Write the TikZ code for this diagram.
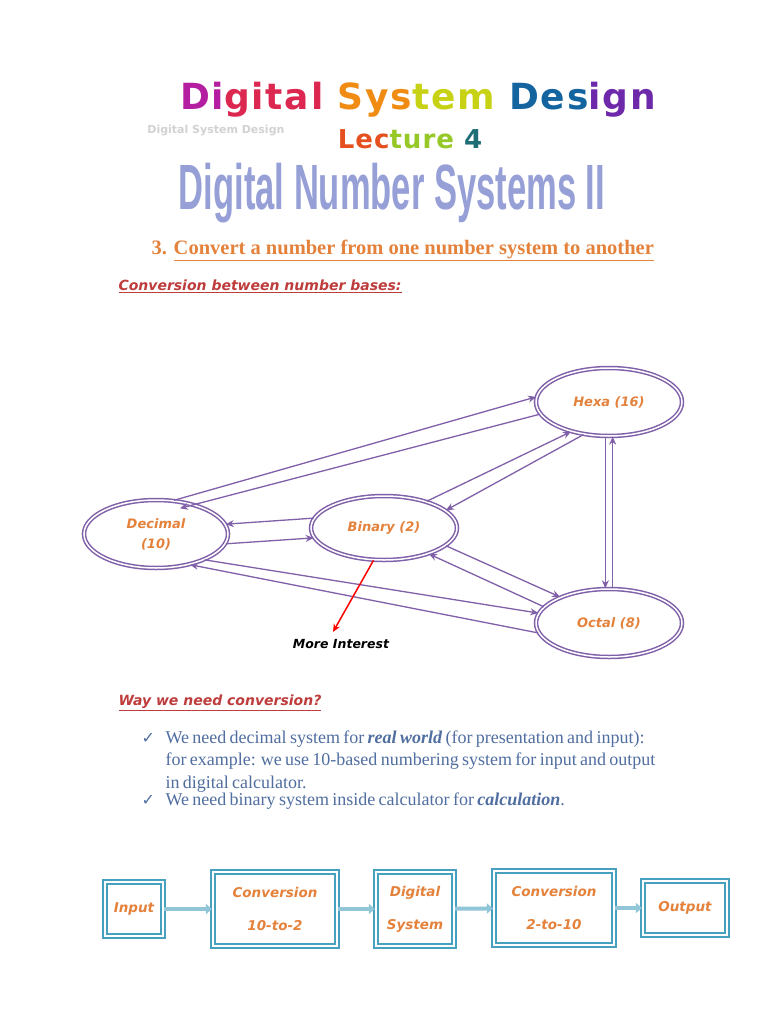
\documentclass[tikz,border=0pt]{standalone}
\usepackage{fontspec}
\setmainfont{Liberation Serif}
\newfontfamily\dsans{DejaVu Sans}
\newfontfamily\arialb{DejaVu Sans}
\newfontfamily\narrowb{Liberation Sans}
\usetikzlibrary{arrows.meta,shapes.geometric,calc}
\definecolor{pur}{RGB}{128,96,168}
\definecolor{org}{RGB}{228,130,60}
\definecolor{dred}{RGB}{190,60,60}
\definecolor{bodyc}{RGB}{80,110,160}
\definecolor{teal}{RGB}{70,160,190}
\tikzset{
 base/.style={ellipse,draw=pur,double=white,double distance=1.5pt,line width=1.5pt,minimum width=146pt,minimum height=68pt,inner sep=0pt,font=\dsans\itshape\bfseries\fontsize{13}{20}\selectfont,text=org,align=center},
 conv/.style={draw=pur,line width=1.3pt,-{Stealth[open,length=8pt,width=7pt]}},
 blk/.style={draw=teal,double=white,double distance=1.5pt,line width=2.2pt,inner sep=0pt,font=\dsans\itshape\bfseries\fontsize{13.5}{33}\selectfont,text=org,align=center},
 flow/.style={draw=teal!60,line width=4pt,-{Triangle[length=6pt,width=10pt]}}
}
\begin{document}
\begin{tikzpicture}[x=1pt,y=-1pt]
\useasboundingbox (0,0) rectangle (768,1024);
\fill[white] (0,0) rectangle (768,1024);
% titles
\node[anchor=east] (t2s) at (288,131) {\arialb\bfseries\fontsize{11}{11}\selectfont\color{gray!35}Digital System Design};
\node (t1) at (418,100) {\arialb\bfseries\fontsize{36}{36}\selectfont\addfontfeature{LetterSpace=5}
 \textcolor[RGB]{180,30,160}{Di}\textcolor[RGB]{220,40,80}{gital} \textcolor[RGB]{240,140,20}{Sys}\textcolor[RGB]{200,210,20}{tem} \textcolor[RGB]{20,100,160}{Des}\textcolor[RGB]{110,40,170}{ign}};
\node (t2) at (410,139) {\arialb\bfseries\fontsize{26}{26}\selectfont\addfontfeature{LetterSpace=4}
 \textcolor[RGB]{230,80,30}{Lec}\textcolor[RGB]{150,200,40}{ture} \textcolor[RGB]{30,110,120}{4}};
\node (t3) at (392,193) {\begingroup\narrowb\bfseries\fontsize{64}{64}\selectfont\color[RGB]{150,160,215}\addfontfeature{FakeStretch=0.54}Digital Number Systems II\endgroup};
\node[anchor=west,text=org] (h3) at (148,250) {\bfseries\fontsize{20.5}{22}\selectfont 3. \underline{Convert a number from one number system to another}};
\node[anchor=west,text=dred] (h4) at (115,286) {\dsans\bfseries\itshape\fontsize{14}{16}\selectfont\underline{Conversion between number bases:}};
% ellipses
\node[base] (hex) at (609,402) {Hexa (16)};
\node[base,minimum width=144pt] (dec) at (156,534) {Decimal\\(10)};
\node[base,minimum height=64pt] (bin) at (384,528) {Binary (2)};
\node[base] (oct) at (609,623) {Octal (8)};
% connectors
\draw[conv] (dec.62) -- (hex.176);
\draw[conv] (hex.190) -- ($(dec.62)+(6,8)$);
\draw[conv] (bin.172) -- (dec.8);
\draw[conv] ($(dec.352)$) -- (bin.188);
\draw[conv] (bin.32) -- (hex.218);
\draw[conv] (hex.232) -- (bin.16);
\draw[conv] (bin.344) -- (oct.152);
\draw[conv] (oct.166) -- (bin.330);
\draw[conv] (dec.332) -- (oct.172);
\draw[conv] (oct.188) -- (dec.318);
\draw[conv] (hex.264) -- (oct.96);
\draw[conv] (oct.84) -- (hex.276);
\coordinate (mi) at (333,632);
\draw[red,line width=1.5pt,-{Stealth[length=8pt,width=7pt]}] (bin.252) -- (mi);
\node (mit) at (341,644) {\dsans\bfseries\itshape\fontsize{12.5}{14}\selectfont More Interest};
% why
\node[anchor=west,text=dred] (why) at (115,703) {\dsans\bfseries\itshape\fontsize{14}{16}\selectfont\underline{Way we need conversion?}};
\node[anchor=north west,text=bodyc,align=left,text width=600pt] (bul) at (138,727) {\fontsize{18}{22.5}\selectfont
\makebox[24pt][l]{\dsans\fontsize{16}{16}\selectfont ✓}We need decimal system for \textbf{\textit{real world}} (for presentation and input):\\
\hspace*{24pt}for example: we use 10-based numbering system for input and output\\
\hspace*{24pt}in digital calculator.\\
\makebox[24pt][l]{\dsans\fontsize{16}{16}\selectfont ✓}We need binary system inside calculator for \textbf{\textit{calculation}}.};
% flow
\node[blk,minimum width=58pt,minimum height=54pt] (in) at (134,909) {Input};
\node[blk,minimum width=124pt,minimum height=74pt] (c1) at (275,909) {Conversion\\10-to-2};
\node[blk,minimum width=78pt,minimum height=74pt] (ds) at (415,909) {Digital\\System};
\node[blk,minimum width=120pt,minimum height=74pt] (c2) at (554,908) {Conversion\\2-to-10};
\node[blk,minimum width=84pt,minimum height=54pt] (out) at (685,908) {Output};
\draw[flow] (in) -- (c1);
\draw[flow] (c1) -- (ds);
\draw[flow] (ds) -- (c2);
\draw[flow] (c2) -- (out);
\end{tikzpicture}
\end{document}
